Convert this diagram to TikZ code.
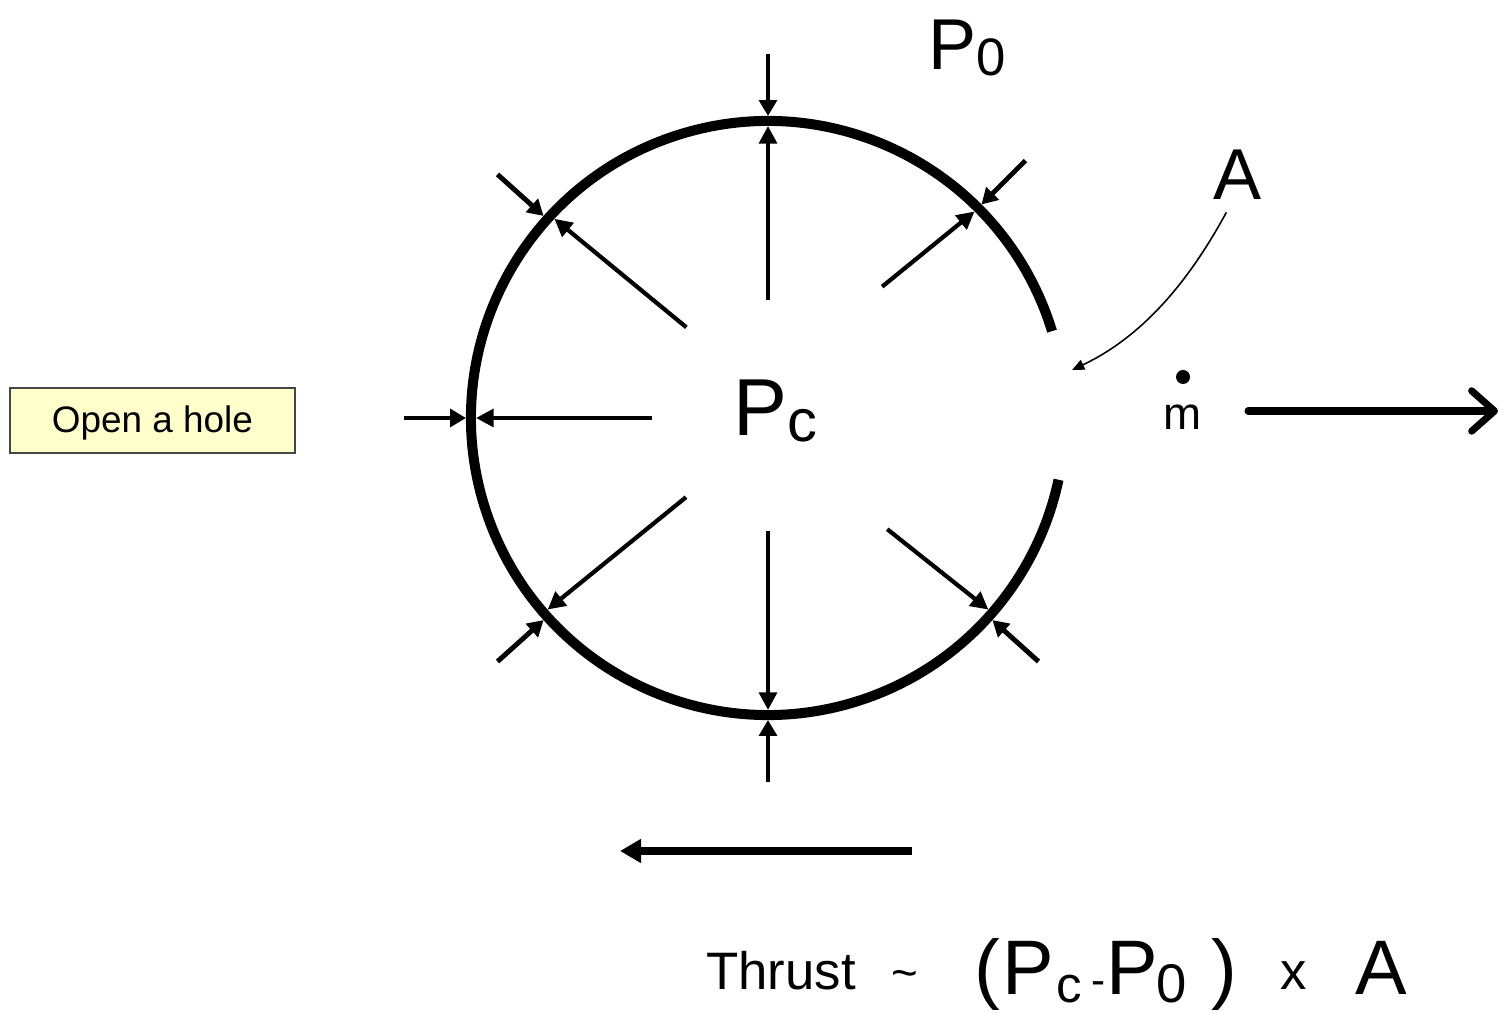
\documentclass[tikz,border=0pt]{standalone}
\usepackage{fontspec}
\setmainfont{Liberation Sans}
\usepackage{tikz}
\usetikzlibrary{arrows.meta,calc}
\definecolor{notefill}{RGB}{255,255,204}
\definecolor{noteedge}{RGB}{70,70,70}
\newlength\pxu
\setlength\pxu{0.02cm}
\newcommand\fs[1]{\fontsize{#1}{#1}\selectfont}

\begin{document}
\begin{tikzpicture}[x=0.02cm, y=0.02cm, >=Stealth,
    wall/.style={line width=5.7pt},
    inforce/.style={-{Triangle[length=10pt,width=10pt]}, line width=2.4pt},
    outforce/.style={-{Triangle[length=9pt,width=10pt]}, line width=2.8pt},
    lbl/.style={inner sep=0pt, anchor=base west}]
    \useasboundingbox (0,0) rectangle (1504,1013);

    % Chamber wall, hole on the right
    \coordinate (c) at (768,595);
    \draw[wall] ($(c)+(17:297)$) arc[start angle=17, end angle=348, radius=297];

    % Chamber pressure pushing out
    \foreach \s/\r/\e in {49/174/45,90/118/90,132/122/137,180/116/180,224/114/221,270/113/270,317/163/319} {
        \draw[inforce] ($(c)+(\s:\r)$) -- ($(c)+(\e:292)$);
    }
    % Outside pressure pushing in
    \foreach \a in {45,90,138,180,222,270,318} {
        \draw[outforce] ($(c)+(\a:364)$) -- ($(c)+(\a:302)$);
    }

    % Labels
    \node[lbl] (pzero) at (928,943) {\fs{41}P\raisebox{-3pt}{\fs{30}0}};
    \node[lbl] (pc) at (733,577) {\fs{46}P\raisebox{-3pt}{\fs{34}c}};
    \node[lbl] (aout) at (1213,813) {\fs{41}A};
    \node[lbl] (mdot) at (1163,583) {\fs{26}m};
    \fill (1183,636) circle[radius=7];

    % Pointer to the hole
    \coordinate (hole) at (1072,643);
    \draw[-{Triangle[length=7pt,width=6pt]}, line width=0.9pt]
        ($(aout.south)+(-11,-12)$) .. controls (1195,743) and (1150,680) .. (hole);

    % Jet and thrust
    \coordinate (jetstart) at (1248,602);
    \coordinate (jetend) at (1498,602);
    \draw[line width=4pt, line cap=round, -{Straight Barb[length=13pt,width=23pt,round]}] (jetstart) -- (jetend);
    \coordinate (pushstart) at (912,162);
    \coordinate (pushend) at (620,162);
    \draw[line width=4pt, -{Triangle[length=12pt,width=13pt]}] (pushstart) -- (pushend);

    % Note box
    \node[draw=noteedge, fill=notefill, line width=0.8pt, minimum width=5.7cm, minimum height=1.3cm,
          text height=17pt, text depth=3pt]
        (hole note) at (152.5,592.5) {\fs{21}Open a hole};

    % Thrust relation
    \node[lbl] (thrust) at (706,23) {\fs{30}Thrust};
    \node[inner sep=0pt] (approx) at (905,33) {\fs{26}\textasciitilde};
    \node[lbl] (formula) at (974,18) {\fs{44}\makebox[28\pxu][l]{(}\makebox[54\pxu][l]{P}\makebox[35\pxu][l]{\raisebox{-4pt}{\fs{29}c}}\makebox[15\pxu][l]{\fs{24}-}\makebox[50\pxu][l]{P}\makebox[55\pxu][l]{\raisebox{-4pt}{\fs{31}0}})};
    \node[lbl] (times) at (1280,23) {\fs{30}x};
    \node[lbl] (aarea) at (1355,18) {\fs{44}A};
\end{tikzpicture}
\end{document}
